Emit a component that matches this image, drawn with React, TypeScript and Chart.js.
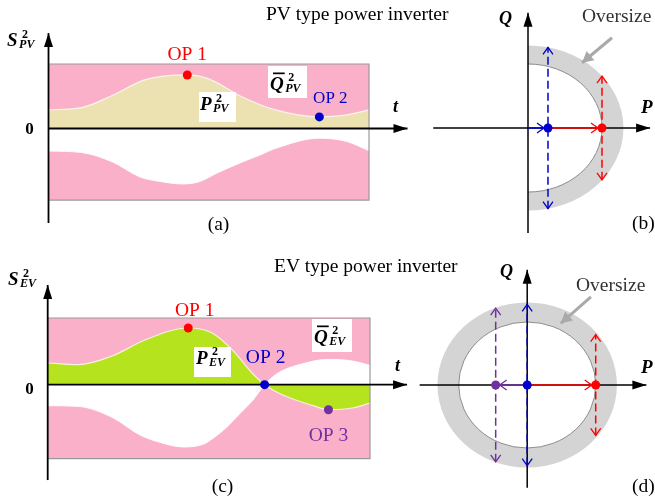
import { useEffect, useRef } from "react";
import { Chart, registerables } from "chart.js";

const SERIF = '"Liberation Serif", "Times New Roman", Times, serif';
const TEXT = `19.5px ${SERIF}`;

const PINK = "#fbb0c9";
const TAN = "#ece2b1";
const LIME = "#b5e31d";
const RING_FILL = "#d4d4d4";
const RED = "#ff0000";
const BLUE = "#0000cc";
const PURPLE = "#7030a0";
const ARROW_GRAY = "#a9a9a9";

// (a) PV inverter: P² over time and the lower limit of the Q̄² band (per unit of S²)
const PV_T = [0, 1, 2, 3, 4.33, 5, 6, 7, 8.45, 9.3, 10];
const PV_P2 = [0.29, 0.32, 0.515, 0.755, 0.83, 0.77, 0.5, 0.3, 0.18, 0.21, 0.29];
const PV_QLIM_T = [0, 1, 2, 2.85, 3.48, 4.2, 4.7, 5.26, 5.97, 6.6, 7.13, 8.45, 9.3, 10];
const PV_QLIM = [-0.35, -0.37, -0.52, -0.75, -0.82, -0.86, -0.825, -0.69, -0.535, -0.41, -0.3, -0.15, -0.2, -0.345];
const PV_BAND = [1, -1.11];
const PV_OP = [4, 8]; // OP 1, OP 2 on the P² curve

// (c) EV inverter
const EV_T = [0, 0.94, 2.0, 3.02, 4.36, 5.1, 5.72, 6.34, 6.73, 7.37, 8.21, 8.71, 9.45, 10];
const EV_P2 = [0.325, 0.3, 0.43, 0.67, 0.85, 0.775, 0.525, 0.175, 0, -0.17, -0.31, -0.375, -0.35, -0.275];
const EV_QLIM_T = [0, 0.94, 2.0, 2.86, 3.48, 4.2, 4.82, 5.13, 5.57, 5.97, 6.37, 6.73, 7.15, 8.0, 8.71, 9.45, 10];
const EV_QLIM = [-0.315, -0.325, -0.49, -0.754, -0.864, -0.934, -0.894, -0.804, -0.63, -0.43, -0.23, 0, 0.175, 0.325, 0.38, 0.355, 0.29];
const EV_BAND = [1, -1.11];
const EV_OP = [4, 8, 11]; // OP 1, OP 2, OP 3

const T_END = 10;

// (b) PV capability circle: rated / oversized radius, operating points
const PV_RING = [1, 1.29];
const PV_OP_P = [1.0, 0.27]; // OP 1, OP 2
const PV_OP_QMAX = [0.81, 1.26];

// (d) EV capability circle
const EV_RING = [1, 1.31];
const EV_OP_P = [1.0, 0, -0.46]; // OP 1, OP 2, OP 3
const EV_OP_QMAX = [0.8, 1.28, 1.22];

type Pt = { x: number; y: number };
const pts = (xs: number[], ys: number[]): Pt[] => xs.map((x, i) => ({ x, y: ys[i] }));

// Draws arrow heads at the ends of datasets carrying an `arrow` spec
const arrowHeads = {
  id: "arrowHeads",
  afterDatasetDraw(chart: any, args: any) {
    const ds = chart.data.datasets[args.index];
    const spec = ds && ds.arrow;
    if (!spec) return;
    const els = args.meta.data;
    if (!els || els.length < 2) return;
    const ctx = chart.ctx as CanvasRenderingContext2D;
    const color = ds.borderColor;
    const head = (a: any, b: any) => {
      const ang = Math.atan2(b.y - a.y, b.x - a.x);
      const c = Math.cos(ang), s = Math.sin(ang);
      const inset = spec.inset || 0;
      const tx = b.x - c * inset, ty = b.y - s * inset;
      const bx = tx - c * spec.len, by = ty - s * spec.len;
      const nx = -s * spec.half, ny = c * spec.half;
      ctx.save();
      ctx.setLineDash([]);
      ctx.beginPath();
      ctx.moveTo(bx + nx, by + ny);
      ctx.lineTo(tx, ty);
      ctx.lineTo(bx - nx, by - ny);
      if (spec.kind === "solid") {
        ctx.closePath();
        ctx.fillStyle = color;
        ctx.fill();
      } else {
        ctx.lineWidth = spec.width || 1.3;
        ctx.strokeStyle = color;
        ctx.lineJoin = "miter";
        ctx.stroke();
      }
      ctx.restore();
    };
    const n = els.length;
    if (spec.end) head(els[n - 2], els[n - 1]);
    if (spec.start) head(els[1], els[0]);
  },
};

Chart.register(...registerables, arrowHeads);

function txt(
  ctx: CanvasRenderingContext2D,
  s: string,
  x: number,
  y: number,
  font: string,
  color = "#000",
  align: CanvasTextAlign = "left"
) {
  ctx.font = font;
  ctx.fillStyle = color;
  ctx.textAlign = align;
  ctx.textBaseline = "alphabetic";
  ctx.fillText(s, x, y);
}

// Symbol such as S²_PV: bold italic letter with superscript 2 and subscript
function sym(ctx: CanvasRenderingContext2D, x: number, y: number, base: string, sub: string, bar = false) {
  ctx.fillStyle = "#000";
  ctx.textAlign = "left";
  ctx.textBaseline = "alphabetic";
  ctx.font = `bold italic 19px ${SERIF}`;
  ctx.fillText(base, x, y);
  const w = ctx.measureText(base).width;
  if (bar) ctx.fillRect(x + 3, y - 17, w - 2, 1.7);
  ctx.font = `bold 12px ${SERIF}`;
  ctx.fillText("2", x + w + 4.5, y - 8.5);
  ctx.font = `bold italic 12px ${SERIF}`;
  ctx.fillText(sub, x + w + 1.5, y + 2);
}

function box(ctx: CanvasRenderingContext2D, x: number, y: number, w: number, h: number) {
  ctx.fillStyle = "#fff";
  ctx.fillRect(x, y, w, h);
}

const overlay = (draw: (ctx: CanvasRenderingContext2D, chart: any) => void) => ({
  id: "overlay",
  afterDatasetsDraw(chart: any) {
    const ctx = chart.ctx as CanvasRenderingContext2D;
    ctx.save();
    draw(ctx, chart);
    ctx.restore();
  },
});

const ringPlugin = (radii: number[], half: boolean) => ({
  id: "ring",
  beforeDatasetsDraw(chart: any) {
    const ctx = chart.ctx as CanvasRenderingContext2D;
    const { x, y } = chart.scales;
    const cx = x.getPixelForValue(0);
    const cy = y.getPixelForValue(0);
    const rxi = x.getPixelForValue(radii[0]) - cx;
    const ryi = cy - y.getPixelForValue(radii[0]);
    const rxo = x.getPixelForValue(radii[1]) - cx;
    const ryo = cy - y.getPixelForValue(radii[1]);
    ctx.save();
    ctx.beginPath();
    if (half) {
      ctx.ellipse(cx, cy, rxo, ryo, 0, -Math.PI / 2, Math.PI / 2, false);
      ctx.ellipse(cx, cy, rxi, ryi, 0, Math.PI / 2, -Math.PI / 2, true);
      ctx.closePath();
    } else {
      ctx.ellipse(cx, cy, rxo, ryo, 0, 0, Math.PI * 2, false);
      ctx.moveTo(cx + rxi, cy);
      ctx.ellipse(cx, cy, rxi, ryi, 0, 0, Math.PI * 2, true);
    }
    ctx.fillStyle = RING_FILL;
    ctx.fill();
    ctx.beginPath();
    if (half) ctx.ellipse(cx, cy, rxi, ryi, 0, -Math.PI / 2, Math.PI / 2, false);
    else ctx.ellipse(cx, cy, rxi, ryi, 0, 0, Math.PI * 2, false);
    ctx.strokeStyle = "#8c8c8c";
    ctx.lineWidth = 1;
    ctx.stroke();
    ctx.restore();
  },
});

function baseOptions(pad: any, xr: number[], yr: number[]) {
  return {
    responsive: false,
    animation: false as const,
    events: [],
    devicePixelRatio: 1,
    layout: { padding: pad },
    scales: {
      x: { type: "linear" as const, display: false, min: xr[0], max: xr[1] },
      y: { type: "linear" as const, display: false, min: yr[0], max: yr[1] },
    },
    plugins: { legend: { display: false }, tooltip: { enabled: false }, title: { display: false } },
    elements: { point: { radius: 0, hoverRadius: 0 } },
  };
}

const line = (data: Pt[], color: string, width: number, order: number, extra: any = {}) => ({
  data,
  borderColor: color,
  borderWidth: width,
  pointRadius: 0,
  fill: false,
  tension: 0,
  clip: false,
  order,
  ...extra,
});

const dot = (p: Pt, color: string) => ({
  data: [p],
  showLine: false,
  pointRadius: 4.5,
  pointBackgroundColor: color,
  pointBorderWidth: 0,
  borderColor: color,
  clip: false,
  order: 0,
});

const AXIS_HEAD = { end: true, kind: "solid", len: 14, half: 4.5 };

function timePanelDatasets(
  t: number[],
  p2: number[],
  qt: number[],
  q: number[],
  band: number[],
  fillColor: string,
  axis: { lo: number; hi: number; tEnd: number }
) {
  return [
    line(
      [
        { x: 0, y: band[0] },
        { x: T_END, y: band[0] },
      ],
      "transparent",
      0,
      9,
      { fill: { value: band[1] }, backgroundColor: PINK }
    ),
    line(pts(t, p2), "rgba(255,255,255,0.75)", 1.2, 8, {
      fill: "origin",
      backgroundColor: fillColor,
      cubicInterpolationMode: "monotone",
    }),
    line(pts(qt, q), "rgba(255,255,255,0.9)", 1, 7, {
      fill: "origin",
      backgroundColor: "#ffffff",
      cubicInterpolationMode: "monotone",
    }),
    line(
      [
        { x: 0, y: band[0] },
        { x: T_END, y: band[0] },
        { x: T_END, y: band[1] },
        { x: 0, y: band[1] },
      ],
      "#9a9a9a",
      1.2,
      6
    ),
    line(
      [
        { x: 0, y: axis.lo },
        { x: 0, y: axis.hi },
      ],
      "#000",
      1.8,
      5,
      { arrow: AXIS_HEAD }
    ),
    line(
      [
        { x: 0, y: 0 },
        { x: axis.tEnd, y: 0 },
      ],
      "#000",
      1.8,
      5,
      { arrow: AXIS_HEAD }
    ),
  ];
}

function buildA() {
  const datasets: any[] = [
    ...timePanelDatasets(PV_T, PV_P2, PV_QLIM_T, PV_QLIM, PV_BAND, TAN, { lo: -1.465, hi: 1.48, tEnd: 11.2 }),
    dot({ x: PV_T[PV_OP[0]], y: PV_P2[PV_OP[0]] }, RED),
    dot({ x: PV_T[PV_OP[1]], y: PV_P2[PV_OP[1]] }, BLUE),
  ];
  return {
    type: "line" as const,
    data: { datasets },
    options: baseOptions({ left: 48.5, right: 245.9, top: 31.75, bottom: 277.75 }, [0, 11.25], [-1.5, 1.5]),
    plugins: [
      overlay((ctx, chart) => {
        const xs = chart.scales.x;
        const ys = chart.scales.y;
        txt(ctx, "PV type power inverter", 266, 20, TEXT);
        txt(ctx, "(a)", 218.5, 230, TEXT, "#000", "center");
        txt(ctx, "0", 29.5, ys.getPixelForValue(0) + 5.5, `bold 17px ${SERIF}`, "#000", "center");
        txt(ctx, "t", 393, 112, `bold italic 18px ${SERIF}`);
        sym(ctx, 7, 46, "S", "PV");
        box(ctx, 199, 92, 37, 30);
        sym(ctx, 200, 110, "P", "PV");
        box(ctx, 268, 66, 39, 32);
        sym(ctx, 270, 89.5, "Q", "PV", true);
        const o1x = xs.getPixelForValue(PV_T[PV_OP[0]]);
        const o1y = ys.getPixelForValue(PV_P2[PV_OP[0]]);
        txt(ctx, "OP 1", o1x, o1y - 15, TEXT, RED, "center");
        const o2x = xs.getPixelForValue(PV_T[PV_OP[1]]);
        const o2y = ys.getPixelForValue(PV_P2[PV_OP[1]]);
        txt(ctx, "OP 2", o2x + 11, o2y - 14, `17px ${SERIF}`, BLUE, "center");
      }),
    ],
  };
}

function buildC() {
  const datasets: any[] = [
    ...timePanelDatasets(EV_T, EV_P2, EV_QLIM_T, EV_QLIM, EV_BAND, LIME, { lo: -1.43, hi: 1.495, tEnd: 11.15 }),
    dot({ x: EV_T[EV_OP[0]], y: EV_P2[EV_OP[0]] }, RED),
    dot({ x: EV_T[EV_OP[1]], y: EV_P2[EV_OP[1]] }, BLUE),
    dot({ x: EV_T[EV_OP[2]], y: EV_P2[EV_OP[2]] }, PURPLE),
  ];
  return {
    type: "line" as const,
    data: { datasets },
    options: baseOptions({ left: 47.7, right: 244.7, top: 283.3, bottom: 21.6 }, [0, 11.25], [-1.45, 1.52]),
    plugins: [
      overlay((ctx, chart) => {
        const xs = chart.scales.x;
        const ys = chart.scales.y;
        const at = (i: number) => ({
          x: xs.getPixelForValue(EV_T[EV_OP[i]]),
          y: ys.getPixelForValue(EV_P2[EV_OP[i]]),
        });
        txt(ctx, "EV type power inverter", 274, 272, TEXT);
        txt(ctx, "(c)", 222.5, 492, TEXT, "#000", "center");
        txt(ctx, "0", 29.5, ys.getPixelForValue(0) + 9, `bold 17px ${SERIF}`, "#000", "center");
        txt(ctx, "t", 395, 371, `bold italic 18px ${SERIF}`);
        sym(ctx, 8, 285, "S", "EV");
        box(ctx, 194, 347, 37, 30);
        sym(ctx, 196, 363.5, "P", "EV");
        box(ctx, 312, 319, 40, 33);
        sym(ctx, 314, 342.5, "Q", "EV", true);
        const o1 = at(0);
        txt(ctx, "OP 1", o1.x + 6.5, o1.y - 12, TEXT, RED, "center");
        const o2 = at(1);
        txt(ctx, "OP 2", o2.x + 1, o2.y - 22, TEXT, BLUE, "center");
        const o3 = at(2);
        txt(ctx, "OP 3", o3.x, o3.y + 31, TEXT, PURPLE, "center");
      }),
    ],
  };
}

const OPEN_BOTH = { start: true, end: true, kind: "open", len: 7, half: 5 };
const OPEN_END = { end: true, kind: "open", len: 7, half: 5, inset: 4 };
const POINTER = { end: true, kind: "solid", len: 11, half: 6 };
const DASH = [8, 4];

function buildB() {
  const [p1, p2] = PV_OP_P;
  const [q1, q2] = PV_OP_QMAX;
  const datasets: any[] = [
    line([{ x: 0, y: -1.64 }, { x: 0, y: 1.8 }], "#000", 1.5, 5, { arrow: AXIS_HEAD }),
    line([{ x: -1.28, y: 0 }, { x: 1.65, y: 0 }], "#000", 1.5, 5, { arrow: AXIS_HEAD }),
    line([{ x: p2, y: -q2 }, { x: p2, y: q2 }], BLUE, 1.5, 4, { borderDash: DASH, arrow: OPEN_BOTH }),
    line([{ x: p1, y: -q1 }, { x: p1, y: q1 }], RED, 1.5, 4, { borderDash: DASH, arrow: OPEN_BOTH }),
    line([{ x: 0, y: 0 }, { x: p2, y: 0 }], BLUE, 1.5, 3, { arrow: OPEN_END }),
    line([{ x: p2, y: 0 }, { x: p1, y: 0 }], RED, 1.5, 3, { arrow: OPEN_END }),
    line([{ x: 1.135, y: 1.41 }, { x: 0.73, y: 1.02 }], ARROW_GRAY, 3, 3, { arrow: POINTER }),
    dot({ x: p2, y: 0 }, BLUE),
    dot({ x: p1, y: 0 }, RED),
  ];
  return {
    type: "line" as const,
    data: { datasets },
    options: baseOptions({ left: 428.1, right: 4.9, top: 12.8, bottom: 270 }, [-1.35, 1.65], [-1.64, 1.8]),
    plugins: [
      ringPlugin(PV_RING, true),
      overlay((ctx) => {
        txt(ctx, "Oversize", 582, 22, TEXT, "#333");
        txt(ctx, "Q", 499, 24, `bold italic 18px ${SERIF}`);
        txt(ctx, "P", 641, 113, `bold italic 19px ${SERIF}`);
        txt(ctx, "(b)", 632, 229, TEXT);
      }),
    ],
  };
}

function buildD() {
  const [p1, p2, p3] = EV_OP_P;
  const [q1, q2, q3] = EV_OP_QMAX;
  const datasets: any[] = [
    line([{ x: 0, y: -1.63 }, { x: 0, y: 1.83 }], "#000", 1.5, 5, { arrow: AXIS_HEAD }),
    line([{ x: -1.57, y: 0 }, { x: 1.74, y: 0 }], "#000", 1.5, 5, { arrow: AXIS_HEAD }),
    line([{ x: p3, y: -q3 }, { x: p3, y: q3 }], PURPLE, 1.5, 4, { borderDash: DASH, arrow: OPEN_BOTH }),
    line([{ x: p2, y: -q2 }, { x: p2, y: q2 }], BLUE, 1.5, 4, { borderDash: DASH, arrow: OPEN_BOTH }),
    line([{ x: p1, y: -q1 }, { x: p1, y: q1 }], RED, 1.5, 4, { borderDash: DASH, arrow: OPEN_BOTH }),
    line([{ x: p2, y: 0 }, { x: p3, y: 0 }], PURPLE, 1.5, 3, { arrow: OPEN_END }),
    line([{ x: p2, y: 0 }, { x: p1, y: 0 }], RED, 1.5, 3, { arrow: OPEN_END }),
    line([{ x: 0.93, y: 1.4 }, { x: 0.49, y: 0.98 }], ARROW_GRAY, 3, 3, { arrow: POINTER }),
    dot({ x: p3, y: 0 }, PURPLE),
    dot({ x: p2, y: 0 }, BLUE),
    dot({ x: p1, y: 0 }, RED),
  ];
  return {
    type: "line" as const,
    data: { datasets },
    options: baseOptions({ left: 417.6, right: 2.8, top: 268.45, bottom: 14.05 }, [-1.6, 1.8], [-1.65, 1.85]),
    plugins: [
      ringPlugin(EV_RING, false),
      overlay((ctx) => {
        txt(ctx, "Oversize", 576, 291, TEXT, "#333");
        txt(ctx, "Q", 500, 277, `bold italic 18px ${SERIF}`);
        txt(ctx, "P", 641, 373, `bold italic 19px ${SERIF}`);
        txt(ctx, "(d)", 632, 492, TEXT);
      }),
    ],
  };
}

function Panel({ build }: { build: () => any }) {
  const ref = useRef<HTMLCanvasElement | null>(null);
  useEffect(() => {
    if (!ref.current) return;
    const chart = new Chart(ref.current, build());
    return () => chart.destroy();
  }, [build]);
  return (
    <canvas
      ref={ref}
      width={655}
      height={503}
      style={{ position: "absolute", left: 0, top: 0, width: 655, height: 503 }}
    />
  );
}

export default function App() {
  return (
    <div
      style={{
        position: "fixed",
        left: 0,
        top: 0,
        width: 655,
        height: 503,
        background: "#fff",
        overflow: "hidden",
      }}
    >
      <Panel build={buildA} />
      <Panel build={buildB} />
      <Panel build={buildC} />
      <Panel build={buildD} />
    </div>
  );
}
